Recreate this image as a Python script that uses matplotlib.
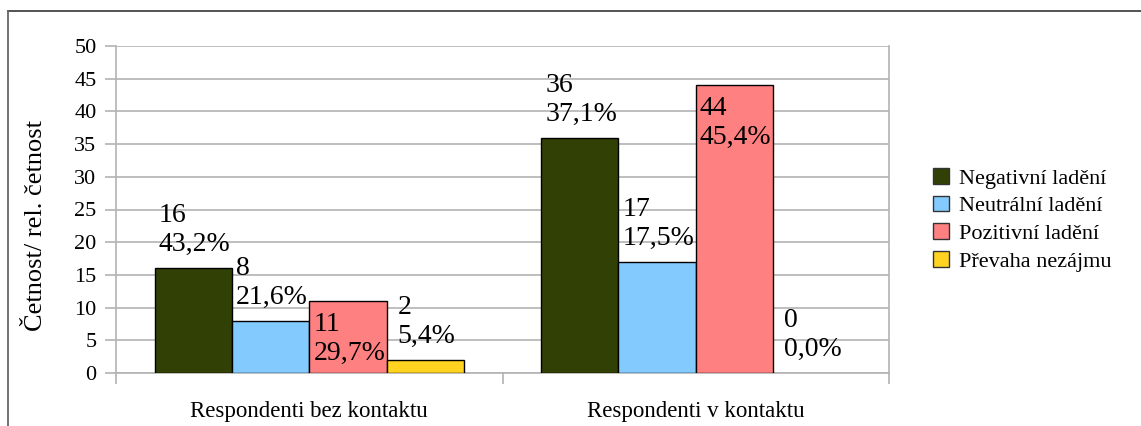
import matplotlib
matplotlib.use("Agg")
import matplotlib.pyplot as plt
from matplotlib.lines import Line2D
from matplotlib.patches import Patch
import numpy as np

plt.rcParams['font.family'] = ['Liberation Serif', 'DejaVu Serif']

# data
categories = ["Respondenti bez kontaktu", "Respondenti v kontaktu"]
series_names = ["Negativní ladění", "Neutrální ladění", "Pozitivní ladění", "Převaha nezájmu"]
counts = [
    [16, 36],   # Negativní ladění
    [8, 17],    # Neutrální ladění
    [11, 44],   # Pozitivní ladění
    [2, 0],     # Převaha nezájmu
]
percents = [
    ["43,2%", "37,1%"],
    ["21,6%", "17,5%"],
    ["29,7%", "45,4%"],
    ["5,4%", "0,0%"],
]
colors = ["#314004", "#83caff", "#ff8080", "#ffd320"]
grid_col = "#b3b3b3"

fig = plt.figure(figsize=(11.41, 4.26), dpi=100)
ax = fig.add_axes([116/1141, 1 - 373/426, (889-116)/1141, (373-46)/426])

# outer frame (top + left edge visible)
fig.add_artist(Line2D([8/1141, 1], [1 - 11/426, 1 - 11/426], color="#444444", lw=1.3, transform=fig.transFigure))
fig.add_artist(Line2D([8/1141, 8/1141], [0, 1 - 11/426], color="#666666", lw=1.3, transform=fig.transFigure))

x = np.arange(len(categories))
bw = 0.2
n = len(series_names)
for i in range(n):
    pos = x - 0.4 + i * bw
    lws = [1 if v > 0 else 0 for v in counts[i]]
    ax.bar(pos, counts[i], width=bw, align='edge', color=colors[i],
           edgecolor="black", linewidth=lws, zorder=3, label=series_names[i])
    for j in range(len(categories)):
        v = counts[i][j]
        txt = f"{v}\n{percents[i][j]}"
        prev = counts[i-1][j] if i > 0 else None
        if prev is not None and v > prev:
            # label sits inside the bar, below its top
            ax.annotate(txt, xy=(pos[j], v), xytext=(3, -8), textcoords='offset points',
                        ha='left', va='top', fontsize=20, linespacing=1.2, zorder=4)
        else:
            dx = 3 if v > 3 else 8
            ax.annotate(txt, xy=(pos[j], v), xytext=(dx, 8), textcoords='offset points',
                        ha='left', va='bottom', fontsize=20, linespacing=1.2, zorder=4)

ax.set_ylim(0, 50)
ax.set_xlim(-0.5, len(categories) - 0.5)
ax.set_yticks(np.arange(0, 51, 5))
ax.yaxis.grid(True, color=grid_col, linewidth=1.2, zorder=0)
ax.tick_params(axis='y', length=8, width=1.2, color=grid_col, labelsize=16, pad=6)

ax.set_xticks(np.arange(-0.5, len(categories), 1.0))
ax.set_xticklabels([])
ax.set_xticks(x, minor=True)
ax.set_xticklabels(categories, minor=True, fontsize=16.5)
ax.tick_params(axis='x', which='major', length=8, width=1.2, color=grid_col)
ax.tick_params(axis='x', which='minor', length=0, pad=20)

for s in ['left', 'right', 'bottom']:
    ax.spines[s].set_color(grid_col)
    ax.spines[s].set_linewidth(1.2)
ax.spines['top'].set_visible(False)

ax.set_ylabel("Četnost/ rel. četnost", fontsize=19)
ax.yaxis.set_label_coords(-0.089, 0.45)

handles = [Patch(facecolor=colors[i], edgecolor="#333333", linewidth=1) for i in range(n)]
fig.legend(handles, series_names, loc='upper left', bbox_to_anchor=(933/1141, 1 - 168/426),
           frameon=False, fontsize=16, handlelength=0.7, handleheight=0.7,
           handletextpad=0.45, labelspacing=0.32, borderaxespad=0, borderpad=0)

fig.savefig("out.png", dpi=100)
